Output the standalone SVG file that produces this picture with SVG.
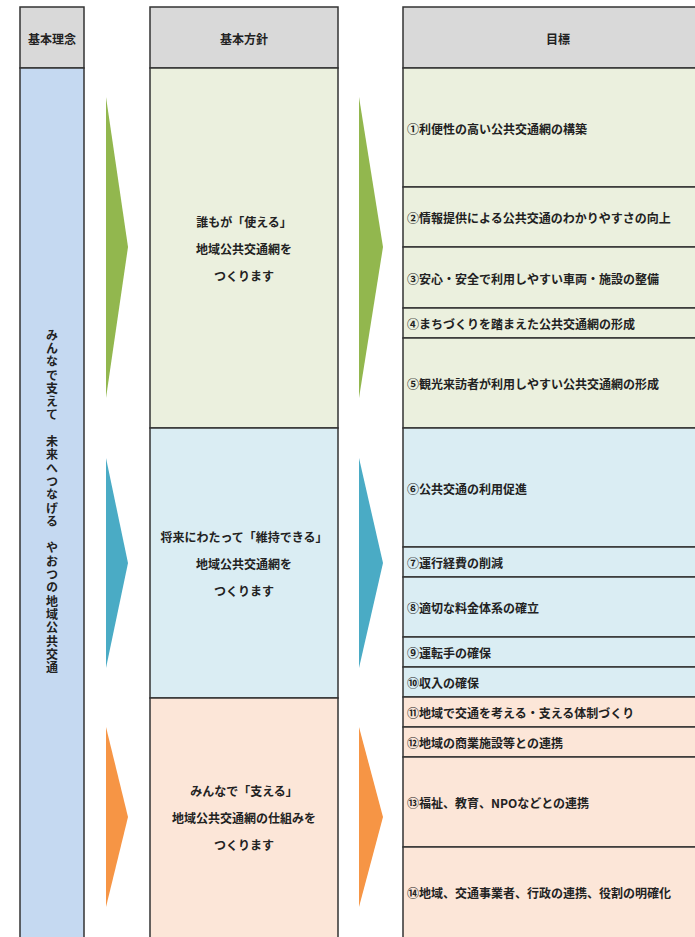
<svg xmlns="http://www.w3.org/2000/svg" width="695" height="937" viewBox="0 0 695 937">
<style>
text{font-family:"Noto Sans CJK JP","Noto Sans CJK SC",sans-serif;font-weight:700;fill:#222;font-size:12px;dominant-baseline:central}
.c{text-anchor:middle}
.b{stroke:#333;stroke-width:1.5}
.hd{fill:#d9d9d9}
.g{fill:#ebf0de}
.bl{fill:#daedf3}
.o{fill:#fce6d8}
.ga{fill:#92b74e}
.ba{fill:#4aabc5}
.oa{fill:#f69545}
.vt{writing-mode:vertical-rl;text-anchor:middle;letter-spacing:1.3px;font-weight:700}
</style>
<rect width="695" height="937" fill="#fff"/>
<g id="col1">
<rect class="hd b" x="20" y="7" width="64" height="61"/>
<text class="c" x="52" y="38">基本理念</text>
<rect fill="#c5d9f1" class="b" x="20" y="68" width="64" height="875"/>
<text class="vt" x="52" y="502">みんなで支えて　未来へつなげる　やおつの地域公共交通</text>
</g>
<g id="col2-header">
<rect class="hd b" x="150" y="7" width="188" height="61"/>
<text class="c" x="244" y="38">基本方針</text>
</g>
<g id="policy1">
<rect class="g b" x="150" y="68" width="188" height="360"/>
<text class="c" x="244" y="221">誰もが「使える」</text>
<text class="c" x="244" y="248">地域公共交通網を</text>
<text class="c" x="244" y="275">つくります</text>
</g>
<g id="policy2">
<rect class="bl b" x="150" y="428" width="188" height="270"/>
<text class="c" x="244" y="536">将来にわたって「維持できる」</text>
<text class="c" x="244" y="563">地域公共交通網を</text>
<text class="c" x="244" y="590">つくります</text>
</g>
<g id="policy3">
<rect class="o b" x="150" y="698" width="188" height="245"/>
<text class="c" x="244" y="790">みんなで「支える」</text>
<text class="c" x="244" y="817">地域公共交通網の仕組みを</text>
<text class="c" x="244" y="844">つくります</text>
</g>
<g id="col3-header">
<rect class="hd b" x="403" y="7" width="310" height="61"/>
<text class="c" x="558" y="38">目標</text>
</g>
<g id="goals">
<g id="g1"><rect class="g b" x="403" y="68" width="310" height="119"/><text x="407" y="128">①利便性の高い公共交通網の構築</text></g>
<g id="g2"><rect class="g b" x="403" y="187" width="310" height="60"/><text x="407" y="217">②情報提供による公共交通のわかりやすさの向上</text></g>
<g id="g3"><rect class="g b" x="403" y="247" width="310" height="61"/><text x="407" y="278">③安心・安全で利用しやすい車両・施設の整備</text></g>
<g id="g4"><rect class="g b" x="403" y="308" width="310" height="30"/><text x="407" y="323">④まちづくりを踏まえた公共交通網の形成</text></g>
<g id="g5"><rect class="g b" x="403" y="338" width="310" height="90"/><text x="407" y="383">⑤観光来訪者が利用しやすい公共交通網の形成</text></g>
<g id="g6"><rect class="bl b" x="403" y="428" width="310" height="119"/><text x="407" y="488">⑥公共交通の利用促進</text></g>
<g id="g7"><rect class="bl b" x="403" y="547" width="310" height="30"/><text x="407" y="562">⑦運行経費の削減</text></g>
<g id="g8"><rect class="bl b" x="403" y="577" width="310" height="60"/><text x="407" y="607">⑧適切な料金体系の確立</text></g>
<g id="g9"><rect class="bl b" x="403" y="637" width="310" height="30"/><text x="407" y="652">⑨運転手の確保</text></g>
<g id="g10"><rect class="bl b" x="403" y="667" width="310" height="30"/><text x="407" y="682">⑩収入の確保</text></g>
<g id="g11"><rect class="o b" x="403" y="697" width="310" height="30"/><text x="407" y="712">⑪地域で交通を考える・支える体制づくり</text></g>
<g id="g12"><rect class="o b" x="403" y="727" width="310" height="30"/><text x="407" y="742">⑫地域の商業施設等との連携</text></g>
<g id="g13"><rect class="o b" x="403" y="757" width="310" height="90"/><text x="407" y="802">⑬福祉、教育、NPOなどとの連携</text></g>
<g id="g14"><rect class="o b" x="403" y="847" width="310" height="96"/><text x="407" y="892">⑭地域、交通事業者、行政の連携、役割の明確化</text></g>
</g>
<g id="connectors">
<polygon class="ga" points="106,97 128,247 106,398"/>
<polygon class="ga" points="359,97 383,247 359,398"/>
<polygon class="ba" points="106,458 128,563 106,668"/>
<polygon class="ba" points="359,458 383,563 359,668"/>
<polygon class="oa" points="106,727 128,817 106,907"/>
<polygon class="oa" points="359,727 383,817 359,907"/>
</g>
</svg>
